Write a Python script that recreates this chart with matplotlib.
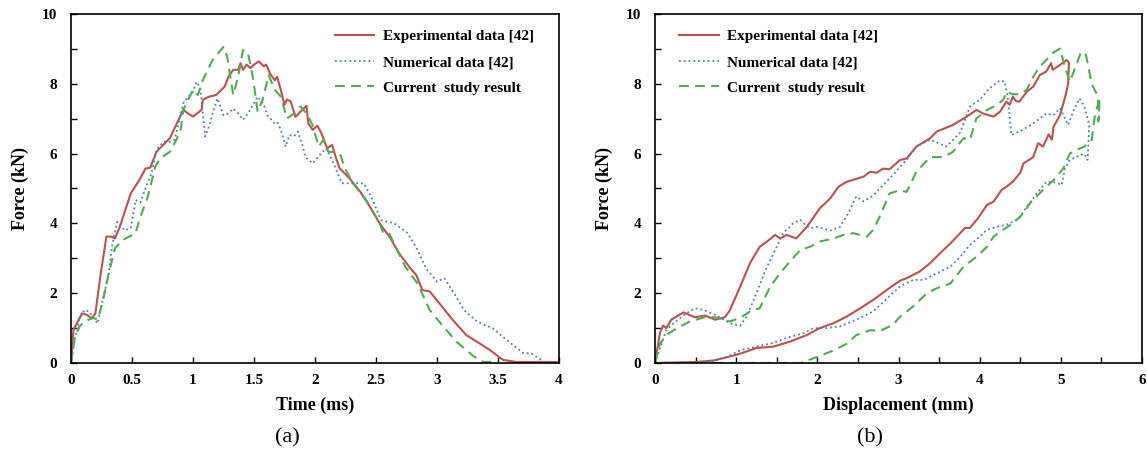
import matplotlib
matplotlib.use("Agg")
import matplotlib.pyplot as plt
from matplotlib.ticker import MultipleLocator

plt.rcParams['font.family'] = ['Liberation Serif', 'DejaVu Serif']
plt.rcParams['font.weight'] = 'bold'

# (a) force vs time
exp_time = [0.00, 0.02, 0.09, 0.13, 0.17, 0.20, 0.24, 0.29, 0.33, 0.36,
            0.40, 0.49, 0.56, 0.61, 0.65, 0.70, 0.81, 0.92, 0.96, 1.00,
            1.07, 1.08, 1.13, 1.19, 1.22, 1.26, 1.29, 1.33, 1.37, 1.39,
            1.41, 1.44, 1.47, 1.50, 1.54, 1.58, 1.60, 1.63, 1.67, 1.69,
            1.72, 1.75, 1.77, 1.80, 1.84, 1.88, 1.93, 1.945, 1.98, 2.02,
            2.05, 2.10, 2.14, 2.17, 2.20, 2.28, 2.37, 2.45, 2.53, 2.61,
            2.69, 2.78, 2.83, 2.88, 2.94, 3.02, 3.13, 3.24, 3.35, 3.43,
            3.54, 3.65, 4.00]
exp_force = [0.00, 0.95, 1.42, 1.38, 1.28, 1.42, 2.47, 3.62, 3.62, 3.57,
             3.90, 4.86, 5.24, 5.57, 5.60, 6.05, 6.44, 7.25, 7.15, 7.06,
             7.25, 7.54, 7.63, 7.68, 7.78, 7.92, 8.20, 8.40, 8.40, 8.59,
             8.40, 8.55, 8.45, 8.55, 8.64, 8.50, 8.55, 8.30, 8.10, 8.20,
             7.82, 7.40, 7.55, 7.50, 7.05, 7.20, 7.37, 6.87, 6.68, 6.80,
             6.60, 6.15, 6.25, 5.90, 5.59, 5.30, 4.91, 4.48, 4.00, 3.62,
             3.14, 2.72, 2.52, 2.09, 2.05, 1.71, 1.23, 0.80, 0.56, 0.38,
             0.09, 0.03, 0.03]

num_time = [0.00, 0.03, 0.07, 0.11, 0.15, 0.18, 0.22, 0.26, 0.31, 0.34,
            0.38, 0.44, 0.49, 0.53, 0.57, 0.62, 0.66, 0.70, 0.76, 0.81,
            0.85, 0.92, 0.96, 1.00, 1.03, 1.06, 1.10, 1.14, 1.16, 1.20,
            1.25, 1.29, 1.33, 1.37, 1.41, 1.45, 1.49, 1.53, 1.58, 1.61,
            1.67, 1.69, 1.72, 1.76, 1.79, 1.83, 1.86, 1.90, 1.92, 1.98,
            2.03, 2.09, 2.14, 2.22, 2.30, 2.40, 2.46, 2.54, 2.65, 2.76,
            2.84, 2.91, 3.00, 3.06, 3.14, 3.22, 3.33, 3.46, 3.57, 3.71,
            3.77, 3.88, 4.00]
num_force = [0.00, 0.66, 1.28, 1.52, 1.47, 1.30, 1.14, 1.81, 2.57, 3.43,
             4.05, 3.80, 3.86, 4.67, 4.60, 5.10, 5.43, 6.10, 6.34, 6.34,
             6.40, 7.44, 7.63, 7.77, 8.06, 7.87, 6.49, 6.86, 7.15, 7.58,
             7.10, 7.15, 7.29, 7.15, 6.97, 7.15, 7.39, 7.63, 7.40, 7.10,
             6.86, 6.90, 6.68, 6.20, 6.53, 6.50, 6.63, 6.20, 5.90, 5.72,
             5.92, 6.15, 5.82, 5.15, 5.15, 5.15, 4.77, 4.10, 4.00, 3.72,
             3.24, 2.71, 2.33, 2.43, 2.00, 1.52, 1.18, 0.99, 0.66, 0.28,
             0.28, 0.03, 0.00]

cur_time = [0.00, 0.03, 0.07, 0.11, 0.18, 0.22, 0.26, 0.31, 0.36, 0.42,
            0.53, 0.56, 0.63, 0.69, 0.73, 0.81, 0.87, 0.90, 0.92, 0.96,
            1.00, 1.04, 1.08, 1.16, 1.25, 1.28, 1.33, 1.37, 1.41, 1.45,
            1.49, 1.53, 1.57, 1.62, 1.67, 1.72, 1.77, 1.83, 1.88, 1.93,
            1.98, 2.03, 2.07, 2.11, 2.17, 2.21, 2.24, 2.31, 2.42, 2.53,
            2.56, 2.61, 2.66, 2.74, 2.84, 2.94, 3.05, 3.16, 3.30, 3.38,
            3.50]
cur_force = [0.00, 0.70, 1.05, 1.19, 1.29, 1.25, 1.76, 2.57, 3.28, 3.52,
             3.72, 4.10, 4.77, 5.62, 5.86, 6.05, 6.44, 6.70, 7.25, 7.54,
             7.83, 7.68, 8.10, 8.68, 9.06, 8.78, 7.68, 8.20, 8.97, 8.90,
             8.20, 7.20, 7.54, 8.25, 7.83, 7.63, 7.01, 7.15, 7.35, 7.15,
             6.82, 6.20, 6.40, 6.05, 6.05, 5.95, 5.62, 5.15, 4.67, 4.00,
             3.72, 3.70, 3.33, 2.76, 2.28, 1.52, 1.05, 0.61, 0.19, 0.03,
             0.03]

# (b) force vs displacement (loading then unloading)
exp_disp = [0.00, 0.06, 0.10, 0.14, 0.20, 0.35, 0.49, 0.62, 0.74, 0.86,
            0.92, 1.05, 1.17, 1.29, 1.38, 1.48, 1.54, 1.62, 1.74, 1.87,
            2.03, 2.16, 2.26, 2.36, 2.57, 2.65, 2.73, 2.81, 2.89, 3.02,
            3.10, 3.22, 3.39, 3.47, 3.67, 3.84, 3.96, 4.04, 4.17, 4.25,
            4.33, 4.37, 4.41, 4.45, 4.49, 4.58, 4.66, 4.74, 4.82, 4.88,
            4.90, 4.99, 5.07, 5.10, 5.09, 5.06, 4.99, 4.91, 4.89, 4.85,
            4.78, 4.72, 4.66, 4.54, 4.50, 4.41, 4.33, 4.27, 4.17, 4.09,
            3.98, 3.88, 3.82, 3.76, 3.64, 3.51, 3.39, 3.26, 3.10, 3.02,
            2.86, 2.69, 2.53, 2.36, 2.20, 2.03, 1.87, 1.66, 1.46, 1.25,
            1.13, 1.01, 0.84, 0.72, 0.51, 0.00]
exp_load = [0.00, 0.85, 1.07, 1.00, 1.24, 1.45, 1.31, 1.36, 1.24, 1.31,
            1.50, 2.19, 2.86, 3.33, 3.48, 3.67, 3.57, 3.67, 3.57, 3.90,
            4.43, 4.72, 5.05, 5.19, 5.34, 5.48, 5.45, 5.57, 5.55, 5.82,
            5.86, 6.20, 6.44, 6.63, 6.82, 7.06, 7.25, 7.15, 7.06, 7.20,
            7.49, 7.40, 7.63, 7.50, 7.49, 7.77, 7.92, 8.25, 8.35, 8.59,
            8.40, 8.54, 8.68, 8.60, 8.00, 7.68, 7.10, 6.77, 6.40, 6.55,
            6.20, 6.30, 5.90, 5.72, 5.45, 5.20, 5.05, 4.96, 4.62, 4.53,
            4.15, 3.87, 3.87, 3.72, 3.43, 3.14, 2.86, 2.62, 2.43, 2.36,
            2.10, 1.81, 1.57, 1.33, 1.14, 1.00, 0.80, 0.61, 0.47, 0.43,
            0.33, 0.24, 0.14, 0.07, 0.03, 0.00]

num_disp = [0.00, 0.08, 0.14, 0.23, 0.35, 0.49, 0.60, 0.76, 0.92, 1.05,
            1.13, 1.25, 1.38, 1.50, 1.58, 1.70, 1.79, 1.85, 1.91, 1.99,
            2.07, 2.16, 2.28, 2.38, 2.48, 2.57, 2.69, 2.81, 2.93, 3.02,
            3.10, 3.22, 3.39, 3.59, 3.76, 3.88, 4.00, 4.12, 4.25, 4.31,
            4.35, 4.39, 4.49, 4.66, 4.82, 4.91, 4.99, 5.09, 5.15, 5.23,
            5.29, 5.33, 5.35, 5.33, 5.29, 5.19, 5.11, 5.05, 5.01, 4.91,
            4.82, 4.74, 4.66, 4.58, 4.49, 4.41, 4.33, 4.21, 4.09, 4.00,
            3.88, 3.76, 3.64, 3.47, 3.31, 3.18, 3.02, 2.86, 2.69, 2.48,
            2.28, 2.11, 1.95, 1.83, 1.66, 1.46, 1.25, 1.05, 0.88, 0.72,
            0.51, 0.00]
num_load = [0.00, 0.55, 0.95, 1.14, 1.36, 1.57, 1.52, 1.36, 1.14, 1.07,
            1.33, 2.00, 2.76, 3.33, 3.72, 4.00, 4.10, 3.96, 3.86, 3.90,
            3.85, 3.80, 3.90, 4.29, 4.77, 4.63, 4.80, 5.10, 5.38, 5.62,
            5.82, 6.20, 6.40, 6.20, 6.60, 7.35, 7.54, 7.87, 8.10, 8.05,
            7.54, 6.53, 6.63, 6.86, 7.15, 7.10, 7.30, 6.82, 7.20, 7.58,
            7.35, 7.01, 6.80, 5.82, 6.00, 5.90, 5.82, 5.57, 5.10, 5.19,
            5.19, 4.96, 4.72, 4.48, 4.15, 4.05, 3.96, 3.90, 3.82, 3.62,
            3.38, 3.04, 2.76, 2.57, 2.38, 2.38, 2.20, 1.85, 1.48, 1.24,
            1.05, 1.00, 1.00, 0.85, 0.75, 0.58, 0.47, 0.36, 0.17, 0.07,
            0.00, 0.00]

cur_disp = [0.00, 0.06, 0.14, 0.27, 0.43, 0.64, 0.76, 0.92, 1.05, 1.17,
            1.29, 1.42, 1.54, 1.66, 1.79, 1.91, 2.03, 2.20, 2.32, 2.44,
            2.61, 2.69, 2.77, 2.89, 3.02, 3.10, 3.22, 3.39, 3.55, 3.67,
            3.80, 3.88, 3.96, 4.09, 4.21, 4.29, 4.33, 4.41, 4.49, 4.58,
            4.66, 4.74, 4.82, 4.91, 4.99, 5.05, 5.11, 5.19, 5.25, 5.31,
            5.38, 5.44, 5.46, 5.48, 5.46, 5.48, 5.42, 5.38, 5.33, 5.29,
            5.19, 5.11, 5.03, 4.91, 4.82, 4.70, 4.62, 4.54, 4.41, 4.29,
            4.17, 4.09, 3.96, 3.80, 3.64, 3.47, 3.35, 3.18, 3.02, 2.93,
            2.77, 2.65, 2.48, 2.36, 2.20, 1.99, 1.80, 0.00]
cur_load = [0.00, 0.55, 0.80, 1.00, 1.19, 1.33, 1.30, 1.19, 1.29, 1.48,
            1.57, 2.19, 2.57, 2.90, 3.24, 3.33, 3.48, 3.57, 3.67, 3.72,
            3.62, 3.82, 4.20, 4.86, 4.95, 4.90, 5.48, 5.90, 5.90, 6.05,
            6.44, 6.40, 7.01, 7.25, 7.39, 7.54, 7.77, 7.70, 7.70, 7.83,
            8.20, 8.49, 8.68, 8.90, 9.01, 8.49, 8.06, 8.54, 8.92, 8.82,
            8.00, 7.72, 7.54, 7.15, 6.92, 7.60, 7.10, 6.39, 6.30, 6.20,
            6.10, 6.00, 5.57, 5.24, 5.05, 4.77, 4.58, 4.29, 4.00, 3.82,
            3.62, 3.33, 3.04, 2.76, 2.28, 2.14, 2.00, 1.62, 1.33, 1.09,
            0.92, 0.94, 0.80, 0.55, 0.36, 0.17, 0.00, 0.00]

labels = ['Experimental data [42]', 'Numerical data [42]', 'Current  study result']
red = '#C0504D'
blue = '#4A7EBB'
green = '#4EAE4E'

fig = plt.figure(figsize=(11.47, 4.55), dpi=100)
ax1 = fig.add_axes([71 / 1147, 92 / 455, 488 / 1147, 349 / 455])
ax2 = fig.add_axes([655 / 1147, 92 / 455, 487 / 1147, 349 / 455])


def draw(ax, xs, ys, leg_x):
    ax.plot(xs[0], ys[0], color=red, lw=1.5, label=labels[0])
    ax.plot(xs[1], ys[1], color=blue, lw=1.3, ls=':', label=labels[1])
    ax.plot(xs[2], ys[2], color=green, lw=1.5, dashes=(4.7, 3.0), label=labels[2])
    ax.set_ylim(0, 10)
    ax.yaxis.set_major_locator(MultipleLocator(2))
    ax.yaxis.set_minor_locator(MultipleLocator(1))
    ax.tick_params(which='both', direction='in', length=4, width=1, labelsize=11)
    ax.tick_params(axis='y', pad=10)
    ax.tick_params(axis='x', pad=8)
    for s in ax.spines.values():
        s.set_linewidth(1.2)
    ax.set_ylabel('Force (kN)', fontsize=13, fontweight='bold', labelpad=9)
    ax.legend(loc='upper left', bbox_to_anchor=(leg_x, 0.955), frameon=False,
              fontsize=11, handlelength=2.6, handletextpad=0.55,
              labelspacing=0.78, borderpad=0, borderaxespad=0)


draw(ax1, [exp_time, num_time, cur_time], [exp_force, num_force, cur_force], 0.54)
ax1.set_xlim(0, 4)
ax1.xaxis.set_major_locator(MultipleLocator(0.5))
ax1.xaxis.set_major_formatter(plt.FuncFormatter(lambda v, p: f'{v:g}'))
ax1.set_xlabel('Time (ms)', fontsize=13, fontweight='bold', labelpad=7)

draw(ax2, [exp_disp, num_disp, cur_disp], [exp_load, num_load, cur_load], 0.05)
ax2.set_xlim(0, 6)
ax2.xaxis.set_major_locator(MultipleLocator(1))
ax2.xaxis.set_minor_locator(MultipleLocator(0.5))
ax2.set_xlabel('Displacement (mm)', fontsize=13, fontweight='bold', labelpad=7)

fig.text(287 / 1147, 1 - 438 / 455, '(a)', fontsize=16, fontweight='normal',
         ha='center', va='center')
fig.text(870 / 1147, 1 - 438 / 455, '(b)', fontsize=16, fontweight='normal',
         ha='center', va='center')

fig.savefig('out.png', dpi=100)
